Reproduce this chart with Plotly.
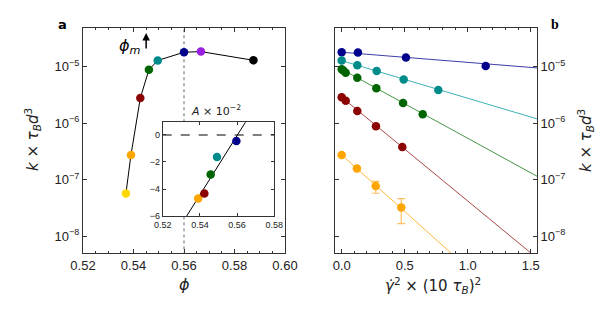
import plotly.graph_objects as go

# ---------------- data ----------------
# panel a: k vs phi
phi = [0.537, 0.539, 0.5427, 0.5461, 0.5496, 0.560, 0.5667, 0.5875]
k_phi = [5.7e-8, 2.75e-7, 2.8e-6, 8.9e-6, 1.3e-5, 1.82e-5, 1.87e-5, 1.31e-5]
phi_colors = ["#FFD700", "#FFA500", "#8B0000", "#006400", "#008B8B", "#00008B", "#9A1FE0", "#000000"]
phi_m = 0.56

# inset: A x 10^-2 vs phi
A_phi = [0.5391, 0.5424, 0.5458, 0.5492, 0.5596]
A_vals = [-4.71, -4.34, -2.93, -1.63, -0.44]
A_colors = ["#FFA500", "#8B0000", "#006400", "#008B8B", "#00008B"]
A_fit_phi = [0.530, 0.567]
A_fit_vals = [-6.64, 1.5]

# panel b: k vs shear rate
navy_x = [0.0, 0.129, 0.51, 1.143]
navy_k = [1.82e-5, 1.8e-5, 1.47e-5, 1.04e-5]
teal_x = [0.0, 0.124, 0.278, 0.492, 0.767]
teal_k = [1.3e-5, 1.07e-5, 8.5e-6, 5.96e-6, 3.9e-6]
green_x = [0.0, 0.013, 0.032, 0.124, 0.275, 0.487, 0.643]
green_k = [9.1e-6, 8.6e-6, 7.9e-6, 6.4e-6, 4.2e-6, 2.3e-6, 1.45e-6]
red_x = [0.0, 0.032, 0.124, 0.272, 0.481]
red_k = [2.9e-6, 2.5e-6, 1.65e-6, 8.9e-7, 3.8e-7]
orange_x = [0.0, 0.121, 0.27, 0.473]
orange_k = [2.75e-7, 1.58e-7, 7.7e-8, 3.2e-8]
orange_err_plus = [0, 0, 1.6e-8, 1.4e-8]
orange_err_minus = [0, 0, 1.95e-8, 1.54e-8]

fit_x = [0.0, 1.6]
navy_fit = [1.82e-5, 9.4e-6]
teal_fit = [1.29e-5, 1.11e-6]
green_fit = [9.1e-6, 1.0e-7]
red_fit = [2.9e-6, 3.3e-9]
orange_fit = [2.75e-7, 1.7e-10]

ytick_vals = [1e-8, 1e-7, 1e-6, 1e-5]
ytick_text = ["10<sup>−8</sup>", "10<sup>−7</sup>", "10<sup>−6</sup>", "10<sup>−5</sup>"]

# page body has an 8px default margin -> figure is 8px smaller, positions given in page pixels
OFF = 8
W, H = 613 - OFF, 313 - OFF
FONT = "DejaVu Sans"
TICKFONT = "Liberation Sans"
AXC = "#333333"
YR = [-8.30, -4.31]


def px(x):
    return (x - OFF) / W


def py(y):
    return 1 - (y - OFF) / H


MAIN_Y_DOM = [py(253), py(28)]
INSET_Y_DOM = [py(216), py(122.3)]


def dom_to_k(d):
    """paper y fraction in the main panel -> k value on its log axis"""
    f = (d - MAIN_Y_DOM[0]) / (MAIN_Y_DOM[1] - MAIN_Y_DOM[0])
    return 10 ** (YR[0] + f * (YR[1] - YR[0]))


fig = go.Figure()

# panel a: dotted phi_m line, interrupted where the inset sits
vy = [10 ** (YR[0] - 1), dom_to_k(INSET_Y_DOM[0]), None, dom_to_k(INSET_Y_DOM[1]), 10 ** (YR[1] + 1)]
fig.add_trace(go.Scatter(x=[phi_m, phi_m, None, phi_m, phi_m], y=vy, mode="lines",
                         line=dict(color="#666", width=1, dash="dot"), connectgaps=False,
                         xaxis="x", yaxis="y", showlegend=False, hoverinfo="skip"))
fig.add_trace(go.Scatter(x=phi, y=k_phi, mode="lines", line=dict(color="black", width=1),
                         xaxis="x", yaxis="y", showlegend=False, hoverinfo="skip"))
fig.add_trace(go.Scatter(x=phi, y=k_phi, mode="markers",
                         marker=dict(color=phi_colors, size=8.5, line=dict(width=0)),
                         xaxis="x", yaxis="y", showlegend=False))

# inset
fig.add_trace(go.Scatter(x=A_fit_phi, y=A_fit_vals, mode="lines", line=dict(color="black", width=1),
                         xaxis="x3", yaxis="y3", showlegend=False))
fig.add_trace(go.Scatter(x=A_phi, y=A_vals, mode="markers",
                         marker=dict(color=A_colors, size=8.5, line=dict(width=0)),
                         xaxis="x3", yaxis="y3", showlegend=False))

# panel b
series = [
    (navy_x, navy_k, navy_fit, "#00008B", "rgba(40,40,160,0.9)"),
    (teal_x, teal_k, teal_fit, "#008B8B", "rgba(40,170,170,0.9)"),
    (green_x, green_k, green_fit, "#006400", "rgba(50,140,50,0.9)"),
    (red_x, red_k, red_fit, "#8B0000", "rgba(160,50,50,0.9)"),
    (orange_x, orange_k, orange_fit, "#FFA500", "rgba(255,180,50,0.95)"),
]
for sx, sk, sfit, col, lcol in series:
    fig.add_trace(go.Scatter(x=fit_x, y=sfit, mode="lines", line=dict(color=lcol, width=1),
                             xaxis="x2", yaxis="y2", showlegend=False))
for sx, sk, sfit, col, lcol in series:
    kw = {}
    if col == "#FFA500":
        kw["error_y"] = dict(type="data", array=orange_err_plus, arrayminus=orange_err_minus,
                             color="rgba(255,175,60,0.8)", thickness=1.2, width=4)
    fig.add_trace(go.Scatter(x=sx, y=sk, mode="markers",
                             marker=dict(color=col, size=8.5, line=dict(width=0)),
                             xaxis="x2", yaxis="y2", showlegend=False, **kw))

common = dict(showline=True, linecolor=AXC, linewidth=1, mirror="allticks", ticks="inside",
              tickcolor=AXC, showgrid=False, zeroline=False, automargin=False,
              tickfont=dict(family=TICKFONT, size=13, color="#222"))
small = {**common, "tickfont": dict(family=TICKFONT, size=9, color="#222")}

fig.update_layout(
    template="none",
    width=W, height=H, margin=dict(l=0, r=0, t=0, b=0, autoexpand=False),
    paper_bgcolor="white", plot_bgcolor="white",
    font=dict(family=FONT, color="#222"),
    xaxis=dict(domain=[px(83), px(285)], range=[0.52, 0.60], dtick=0.02, tick0=0.52, tickformat=".2f",
               ticklen=4, anchor="y",
               minor=dict(ticks="inside", dtick=0.005, ticklen=2, tickcolor=AXC), **common),
    yaxis=dict(domain=MAIN_Y_DOM, type="log", range=YR,
               tickvals=ytick_vals, ticktext=ytick_text, ticklen=4, anchor="x", **common),
    xaxis2=dict(domain=[px(335), px(537)], range=[-0.053, 1.55], dtick=0.5, tick0=0, tickformat=".1f",
                ticklen=4, anchor="y2",
                minor=dict(ticks="inside", dtick=0.1, ticklen=2, tickcolor=AXC), **common),
    yaxis2=dict(domain=MAIN_Y_DOM, type="log", range=YR, side="right",
                tickvals=ytick_vals, ticktext=ytick_text, ticklen=4, anchor="x2", **common),
    xaxis3=dict(domain=[px(162.7), px(274.3)], range=[0.52, 0.58], dtick=0.02, tick0=0.52, tickformat=".2f",
                ticklen=3, anchor="y3", **small),
    yaxis3=dict(domain=INSET_Y_DOM, range=[-6, 0.94],
                tickvals=[0, -2, -4, -6], ticktext=["0", "−2", "−4", "−6"],
                ticklen=3, anchor="x3", **small),
)

# dashed zero line in inset
fig.add_shape(type="line", xref="x3", yref="y3", x0=0.52, x1=0.58, y0=0, y1=0,
              line=dict(color="black", width=1.2, dash="dash"), layer="below")

# arrow for phi_m
fig.add_annotation(x=0.545, y=-4.40, xref="x", yref="y", ax=0, ay=17, text="",
                   showarrow=True, arrowhead=2, arrowsize=1, arrowwidth=1.5, arrowcolor="black")


def label(x, y, text, size, angle=0, family=FONT, color="#222"):
    fig.add_annotation(x=px(x), y=py(y), xref="paper", yref="paper", showarrow=False,
                       xanchor="center", yanchor="middle", textangle=angle,
                       text=text, font=dict(size=size, family=family, color=color))


label(130, 46, "<i>ϕ<sub>m</sub></i>", 16, color="black")
label(216, 110, "<i>A</i> × 10<sup>−2</sup>", 11)
label(184, 284, "<i>ϕ</i>", 16)
label(433, 285, "<i>γ̇</i><sup>2</sup> × (10 <i>τ<sub>B</sub></i>)<sup>2</sup>", 15)
ylab = "<i>k</i> × <i>τ<sub>B</sub>d</i><sup>3</sup>"
label(33, 140, ylab, 15, angle=-90)
label(585, 141, ylab, 15, angle=-90)
label(62, 25, "<b>a</b>", 13, color="black")
label(555, 25, "<b>b</b>", 14, family="Liberation Serif", color="black")

fig.write_html("out.html")
